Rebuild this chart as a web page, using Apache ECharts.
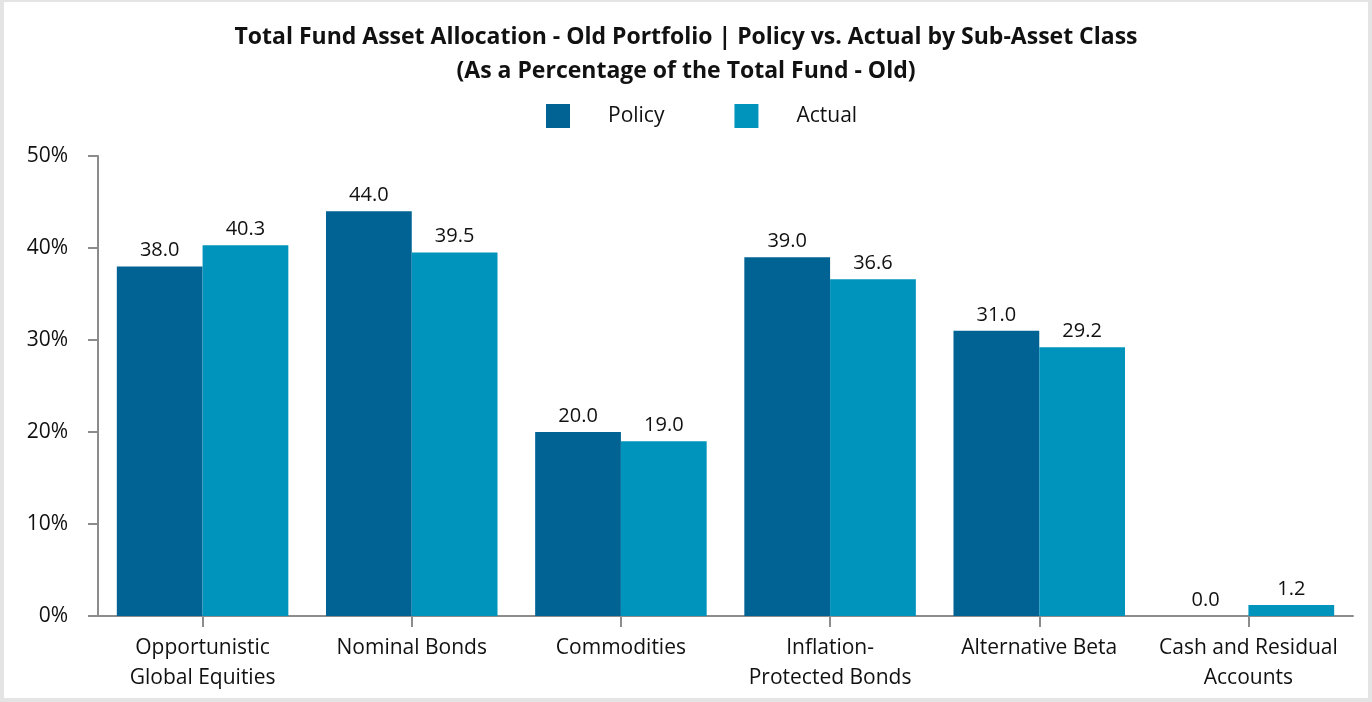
<!DOCTYPE html>
<html>
<head>
<meta charset="utf-8">
<script src="https://cdn.jsdelivr.net/npm/echarts@6/dist/echarts.min.js"></script>
<style>
html, body { margin: 0; padding: 0; background: #fff; }
#chart {
  width: 1372px;
  height: 702px;
  box-sizing: border-box;
  border: 4px solid #e4e4e4;
  border-top-width: 2px;
}
</style>
</head>
<body>
<div id="chart"></div>
<script>
// sub-asset classes
const categories = [
  'Opportunistic\nGlobal Equities',
  'Nominal Bonds',
  'Commodities',
  'Inflation-\nProtected Bonds',
  'Alternative Beta',
  'Cash and Residual\nAccounts'
];
const policyValues = [38.0, 44.0, 20.0, 39.0, 31.0, 0.0];
const actualValues = [40.3, 39.5, 19.0, 36.6, 29.2, 1.2];
const seriesNames = ['Policy', 'Actual'];

const fontFamily = '"Open Sans", "Noto Sans", sans-serif';
const axisGray = '#8c8c8c';

const labelStyle = {
  show: true,
  position: 'top',
  distance: 6,
  color: '#111',
  fontSize: 20,
  fontFamily: fontFamily,
  formatter: p => p.value.toFixed(1)
};

const chart = echarts.init(document.getElementById('chart'));
chart.setOption({
  animation: false,
  title: {
    text: 'Total Fund Asset Allocation - Old Portfolio | Policy vs. Actual by Sub-Asset Class\n(As a Percentage of the Total Fund - Old)',
    left: 'center',
    top: 13,
    textStyle: {
      fontSize: 23,
      fontWeight: 'bold',
      fontFamily: fontFamily,
      color: '#111',
      lineHeight: 34
    }
  },
  legend: {
    data: seriesNames,
    top: 97,
    left: 537,
    itemWidth: 24,
    itemHeight: 24,
    itemGap: 70,
    icon: 'rect',
    textStyle: {
      fontSize: 21,
      fontFamily: fontFamily,
      color: '#111',
      padding: [0, 0, 0, 33]
    }
  },
  grid: {
    left: 94,
    right: 15,
    top: 154,
    bottom: 82
  },
  xAxis: {
    type: 'category',
    data: categories,
    axisLine: { lineStyle: { color: axisGray, width: 2 } },
    axisTick: { show: true, alignWithLabel: true, length: 11, lineStyle: { color: axisGray, width: 2 } },
    axisLabel: {
      color: '#111',
      fontSize: 21,
      fontFamily: fontFamily,
      lineHeight: 30,
      margin: 17,
      interval: 0
    }
  },
  yAxis: {
    type: 'value',
    min: 0,
    max: 50,
    interval: 10,
    axisLine: { show: true, lineStyle: { color: axisGray, width: 2 } },
    axisTick: { show: true, length: 10, lineStyle: { color: axisGray, width: 2 } },
    splitLine: { show: false },
    axisLabel: {
      formatter: '{value}%',
      color: '#111',
      fontSize: 21,
      fontFamily: fontFamily,
      margin: 30
    }
  },
  series: [
    {
      name: seriesNames[0],
      type: 'bar',
      data: policyValues,
      barGap: '0%',
      barCategoryGap: '18%',
      itemStyle: { color: '#006394' },
      label: labelStyle
    },
    {
      name: seriesNames[1],
      type: 'bar',
      data: actualValues,
      barGap: '0%',
      barCategoryGap: '18%',
      itemStyle: { color: '#0093bb' },
      label: labelStyle
    }
  ]
});
</script>
</body>
</html>
